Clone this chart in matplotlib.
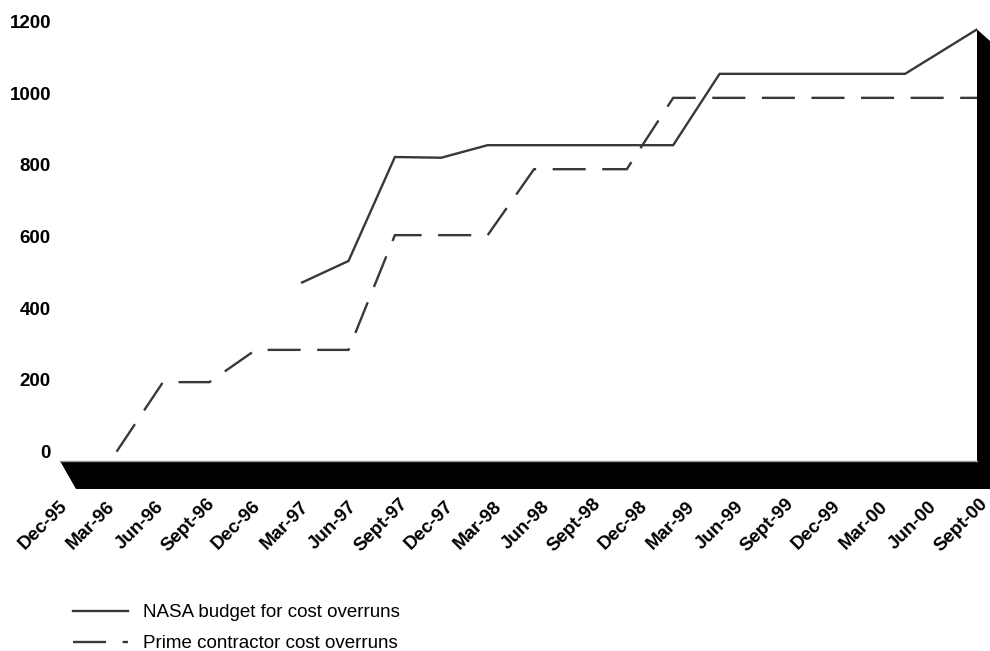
import numpy as np
import matplotlib
matplotlib.use("Agg")
import matplotlib.pyplot as plt
from matplotlib.patches import Polygon

plt.rcParams['font.family'] = ['Liberation Sans', 'DejaVu Sans']

# categories on the x axis (quarters)
quarters = ["Dec-95", "Mar-96", "Jun-96", "Sept-96", "Dec-96", "Mar-97",
            "Jun-97", "Sept-97", "Dec-97", "Mar-98", "Jun-98", "Sept-98",
            "Dec-98", "Mar-99", "Jun-99", "Sept-99", "Dec-99", "Mar-00",
            "Jun-00", "Sept-00"]

# NASA budget for cost overruns (position in quarters since Dec-95, $ millions)
nasa_x = [5, 6, 7, 8, 9, 13, 14, 18, 19.55]
nasa_y = [472, 532, 822, 820, 855, 855, 1054, 1054, 1178]

# prime contractor cost overruns
prime_x = [1, 2, 3, 4, 6, 7, 9, 10, 12, 13, 18, 19.55]
prime_y = [0, 194, 194, 284, 284, 604, 604, 788, 788, 987, 987, 987]

y_ticks = [0, 200, 400, 600, 800, 1000, 1200]

W, H = 990, 651
fig = plt.figure(figsize=(W / 100, H / 100), dpi=100)

# plane (back wall) in pixels
px_left, px_right, px_top, px_bottom = 60, 977, 21.5, 461
depth_dx, depth_dy = 16, 28   # floor depth

# background overlay for the 3D floor / side wall
bg = fig.add_axes([0, 0, 1, 1], zorder=0)
bg.set_xlim(0, W)
bg.set_ylim(H, 0)
bg.axis("off")

ax = fig.add_axes([px_left / W, 1 - px_bottom / H,
                   (px_right - px_left) / W, (px_bottom - px_top) / H],
                  zorder=2)
ax.set_facecolor("none")
ax.set_xlim(-0.22, 19.55)
ax.set_ylim(-26, 1200)

line_kw = dict(color="#383838", lw=1.7)
ax.plot(nasa_x, nasa_y, label="NASA budget for cost overruns",
        solid_joinstyle="miter", **line_kw)
ax.plot(prime_x, prime_y, label="Prime contractor cost overruns",
        dashes=(14, 7), dash_joinstyle="miter", **line_kw)

ax.set_xticks([])
ax.set_yticks(y_ticks)
ax.set_yticklabels([str(v) for v in y_ticks], fontsize=13.5, fontweight="bold")
ax.tick_params(axis="y", length=0, pad=6.5)
for s in ["left", "top", "right"]:
    ax.spines[s].set_visible(False)
ax.spines["bottom"].set_color("#9a9a9a")
ax.spines["bottom"].set_linewidth(1.0)

# floor slab
floor = Polygon([(px_left, px_bottom), (W + 5, px_bottom),
                 (W + 5, px_bottom + depth_dy),
                 (px_left + depth_dx, px_bottom + depth_dy)],
                closed=True, facecolor="black", edgecolor="none")
bg.add_patch(floor)

# right side wall, as high as the tallest value
fig.canvas.draw()
top_px = H - ax.transData.transform((0, max(nasa_y)))[1]
wall = Polygon([(px_right, top_px), (W + 5, top_px + 16),
                (W + 5, px_bottom + depth_dy), (px_right, px_bottom)],
               closed=True, facecolor="black", edgecolor="none")
bg.add_patch(wall)

# front edge of the floor carries the category labels
front = fig.add_axes([43 / W, 1 - 489 / H, (961 - 43) / W, 0.001],
                     zorder=1)
front.set_xlim(0, len(quarters) - 1)
front.set_facecolor("none")
for s in front.spines.values():
    s.set_visible(False)
front.set_yticks([])
front.set_xticks(range(len(quarters)))
front.set_xticklabels(quarters, rotation=45, ha="center", va="center",
                      rotation_mode="anchor", fontsize=13.5, fontweight="bold")
front.tick_params(axis="x", length=0, pad=26)

fig.legend(loc="upper left", bbox_to_anchor=(73 / W, 1 - 604 / H),
           frameon=False, fontsize=13.5, handlelength=2.95,
           handletextpad=0.8, labelspacing=0.75, borderpad=0,
           borderaxespad=0)

fig.savefig("out.png", dpi=100)
